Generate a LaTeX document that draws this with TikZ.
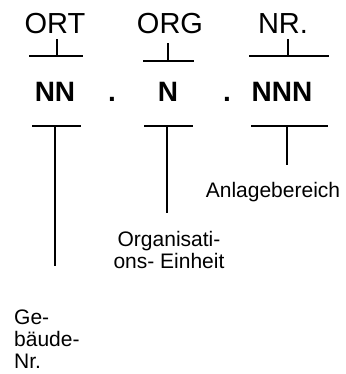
\documentclass[tikz,border=0pt]{standalone}
\usepackage{fontspec}
\setmainfont{Liberation Sans}
\usetikzlibrary{positioning}

\begin{document}
\begin{tikzpicture}[x=1pt, y=-1pt,
                  lbl/.style = {font=\fontsize{29}{31}\selectfont, inner sep=0pt, anchor=base},
                  fld/.style = {font=\fontsize{28}{30}\selectfont\bfseries, inner sep=0pt, anchor=base},
                  txt/.style = {font=\fontsize{21}{22}\selectfont, inner sep=0pt},
                  bar/.style = {line width=2.8pt},
                  tick/.style = {line width=2.8pt, shorten <=5pt}
                  ]
  \useasboundingbox (0,0) rectangle (345,374);
  % kopf
  \node[lbl] (ort) at (55,34) {ORT};
  \node[lbl] (org) at (170,34) {ORG};
  \node[lbl] (nr)  at (283,34) {NR.};
  % felder
  \node[fld] (nn)   at (55,102)  {NN};
  \node[fld] (dot1) at (112,102) {.};
  \node[fld] (n)    at (168,102) {N};
  \node[fld] (dot2) at (227,102) {.};
  \node[fld] (nnn)  at (282,102) {NNN};
  % erlaeuterungen
  \node[txt, align=left, anchor=north west] (geb) at (14,310) {Ge-\\bäude-\\Nr.};
  \node[txt, align=center, anchor=north] (orgeinh) at (169,231) {Organisati-\\ons- Einheit};
  \node[txt, anchor=north] (anlage) at (273,182) {Anlagebereich};
  % obere klammern
  \coordinate (ortT) at (57,56);
  \coordinate (orgT) at (168,61);
  \coordinate (nrT)  at (288,56);
  \draw[bar] ([xshift=-28pt]ortT) -- ([xshift=26pt]ortT);
  \draw[bar] ([xshift=-25pt]orgT) -- ([xshift=26pt]orgT);
  \draw[bar] ([xshift=-39pt]nrT) -- ([xshift=41pt]nrT);
  \draw[tick] (ort.south -| ortT) -- (ortT);
  \draw[tick, shorten <=9pt] (org.south -| orgT) -- (orgT);
  \draw[tick] (nr.south -| nrT) -- (nrT);
  % untere klammern
  \coordinate (ortB) at (55,126);
  \coordinate (orgB) at (167,126);
  \coordinate (nrB)  at (287,126);
  \draw[bar] ([xshift=-23pt]ortB) -- ([xshift=26pt]ortB);
  \draw[bar] ([xshift=-23pt]orgB) -- ([xshift=26pt]orgB);
  \draw[bar] ([xshift=-36pt]nrB) -- ([xshift=41pt]nrB);
  \draw[bar, shorten >=44pt] (ortB) -- (geb.north -| ortB);
  \draw[bar, shorten >=18pt] (orgB) -- (orgeinh.north -| orgB);
  \draw[bar, shorten >=17pt] (nrB) -- (anlage.north -| nrB);
\end{tikzpicture}
\end{document}
